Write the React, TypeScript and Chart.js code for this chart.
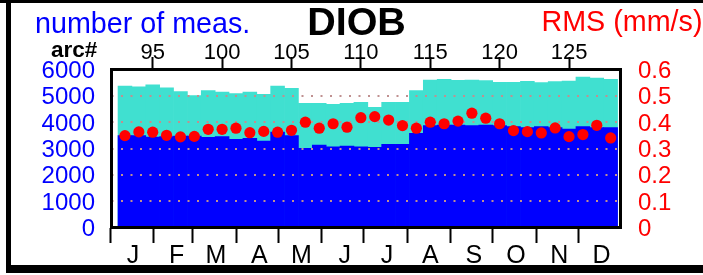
import { useEffect, useRef } from 'react';
import { Chart, registerables } from 'chart.js';

Chart.register(...registerables);

const FONT = '"Liberation Sans", Arial, Helvetica, sans-serif';

// arc numbers (one bar / point per arc)
const arcs = [93, 94, 95, 96, 97, 98, 99, 100, 101, 102, 103, 104, 105, 106, 107, 108, 109, 110,
  111, 112, 113, 114, 115, 116, 117, 118, 119, 120, 121, 122, 123, 124, 125, 126, 127, 128];
// total number of measurements (turquoise top)
const totalMeas = [5373, 5346, 5422, 5308, 5157, 5005, 5195, 5145, 5081, 5145, 5056, 5373, 5285,
  4716, 4716, 4678, 4716, 4754, 4564, 4754, 4754, 5195, 5601, 5626, 5588, 5601, 5575, 5512,
  5512, 5550, 5499, 5537, 5563, 5715, 5677, 5626];
// accepted measurements (blue)
const blueMeas = [3490, 3490, 3436, 3455, 3474, 3474, 3425, 3448, 3349, 3387, 3284, 3620, 3486,
  3007, 3132, 3068, 3094, 3068, 3045, 3159, 3159, 3577, 3866, 3892, 3892, 3866, 3892, 3866,
  3828, 3790, 3828, 3790, 3740, 3828, 3790, 3790];
// RMS (mm/s)
const rms = [0.349, 0.363, 0.362, 0.350, 0.344, 0.346, 0.373, 0.373, 0.377, 0.360, 0.365, 0.362,
  0.369, 0.400, 0.377, 0.394, 0.381, 0.417, 0.421, 0.408, 0.387, 0.377, 0.400, 0.394, 0.404,
  0.434, 0.415, 0.394, 0.368, 0.364, 0.359, 0.378, 0.345, 0.353, 0.388, 0.340];

const arcTicks = [95, 100, 105, 110, 115, 120, 125];
const measTicks = [0, 1000, 2000, 3000, 4000, 5000, 6000];
const rmsTicks = [0, 0.1, 0.2, 0.3, 0.4, 0.5, 0.6];
const rmsTickLabels = ['0', '0.1', '0.2', '0.3', '0.4', '0.5', '0.6'];
const monthStarts = [0, 31, 59, 90, 120, 151, 181, 212, 243, 273, 304, 334];
const monthLabels = ['J', 'F', 'M', 'A', 'M', 'J', 'J', 'A', 'S', 'O', 'N', 'D'];

const BLUE = '#0000ff';
const TURQ = '#40e0d0';
const RED = '#ff0000';
const GRID = '#c09090';

const LEFT_W = 111.5;
const RIGHT_W = 82.5;
const TOP_H = 69.5;
const BOTTOM_H = 47.5;

const decorPlugin = {
  id: 'decor',
  beforeDatasetDraw(chart: any, args: any) {
    if (args.index !== 2) return;
    const { ctx, chartArea } = chart;
    const ys = chart.scales.y;
    ctx.save();
    ctx.strokeStyle = GRID;
    ctx.lineWidth = 2;
    ctx.setLineDash([2, 7.5]);
    ys.ticks.forEach((t: any) => {
      if (t.value <= ys.min || t.value >= ys.max) return;
      const py = Math.round(ys.getPixelForValue(t.value));
      ctx.beginPath();
      ctx.moveTo(chartArea.left, py);
      ctx.lineTo(chartArea.right, py);
      ctx.stroke();
    });
    ctx.restore();
  },
  afterDraw(chart: any) {
    const { ctx, chartArea } = chart;
    ctx.save();
    // plot box
    ctx.strokeStyle = '#000';
    ctx.lineWidth = 3;
    ctx.strokeRect(chartArea.left, chartArea.top, chartArea.right - chartArea.left, chartArea.bottom - chartArea.top);
    // outer frame
    ctx.fillStyle = '#000';
    ctx.fillRect(0, 0, 703, 3);
    ctx.fillRect(6, 0, 5, 273);
    ctx.fillRect(6, 265, 697, 8);
    // texts
    ctx.textBaseline = 'alphabetic';
    ctx.fillStyle = BLUE;
    ctx.textAlign = 'left';
    ctx.font = `28.7px ${FONT}`;
    ctx.fillText('number of meas.', 35, 33);
    ctx.fillStyle = RED;
    ctx.fillText('RMS (mm/s)', 541.5, 31);
    ctx.fillStyle = '#000';
    ctx.textAlign = 'center';
    ctx.font = `bold 39.5px ${FONT}`;
    ctx.fillText('DIOB', 356.5, 35);
    ctx.textAlign = 'left';
    ctx.font = `bold 22.5px ${FONT}`;
    ctx.fillText('arc#', 51, 57);
    ctx.restore();
  },
};

export default function App() {
  const ref = useRef<HTMLCanvasElement>(null);
  useEffect(() => {
    if (!ref.current) return;
    const chart = new Chart(ref.current, {
      type: 'bar',
      data: {
        datasets: [
          {
            type: 'bar',
            label: 'total',
            data: arcs.map((a, i) => ({ x: a, y: totalMeas[i] })),
            backgroundColor: TURQ,
            borderWidth: 0,
            barPercentage: 1,
            categoryPercentage: 1,
            grouped: false,
            order: 3,
            xAxisID: 'xArc',
            yAxisID: 'y',
          } as any,
          {
            type: 'bar',
            label: 'used',
            data: arcs.map((a, i) => ({ x: a, y: blueMeas[i] })),
            backgroundColor: BLUE,
            borderWidth: 0,
            barPercentage: 1,
            categoryPercentage: 1,
            grouped: false,
            order: 2,
            xAxisID: 'xArc',
            yAxisID: 'y',
          } as any,
          {
            type: 'scatter',
            label: 'rms',
            data: arcs.map((a, i) => ({ x: a, y: rms[i] })),
            pointRadius: 5.6,
            pointBackgroundColor: RED,
            pointBorderColor: RED,
            pointBorderWidth: 0,
            showLine: false,
            order: 1,
            xAxisID: 'xArc',
            yAxisID: 'yRms',
          } as any,
        ],
      },
      options: {
        responsive: false,
        animation: false,
        devicePixelRatio: 1,
        layout: { padding: 0 },
        plugins: { legend: { display: false }, tooltip: { enabled: false }, title: { display: false } },
        scales: {
          xArc: {
            type: 'linear',
            axis: 'x',
            position: 'top',
            min: 92.03,
            max: 128.71,
            offset: false,
            grid: { display: true, drawOnChartArea: false, drawTicks: true, tickLength: 12.5, tickWidth: 2, tickColor: '#000', offset: false },
            border: { display: false },
            ticks: {
              autoSkip: false, maxRotation: 0, padding: -7, color: '#000',
              font: { family: FONT, size: 22, lineHeight: 1 },
              callback: (v: any) => String(v),
            },
            afterBuildTicks: (s: any) => { s.ticks = arcTicks.map((v) => ({ value: v })); },
            afterFit: (s: any) => { s.height = TOP_H; },
          },
          xMonth: {
            type: 'linear',
            axis: 'x',
            position: 'bottom',
            min: 1,
            max: 364,
            offset: false,
            grid: { display: true, drawOnChartArea: false, drawTicks: true, tickLength: 15.5, tickWidth: 2, tickColor: '#000', offset: false },
            border: { display: false },
            ticks: {
              autoSkip: false, maxRotation: 0, padding: 0.8, labelOffset: 23, color: '#000',
              font: { family: FONT, size: 25, lineHeight: 1 },
              callback: (_v: any, i: number) => monthLabels[i],
            },
            afterBuildTicks: (s: any) => { s.ticks = monthStarts.map((v) => ({ value: v })); },
            afterFit: (s: any) => { s.height = BOTTOM_H; },
          },
          y: {
            type: 'linear',
            axis: 'y',
            position: 'left',
            min: 0,
            max: 6000,
            grid: { display: false, drawTicks: false },
            border: { display: false },
            ticks: {
              autoSkip: false, padding: 16.5, labelOffset: 2, color: BLUE,
              font: { family: FONT, size: 24, lineHeight: 1 },
              callback: (v: any) => String(v),
            },
            afterBuildTicks: (s: any) => { s.ticks = measTicks.map((v) => ({ value: v })); },
            afterFit: (s: any) => { s.width = LEFT_W; },
          },
          yRms: {
            type: 'linear',
            axis: 'y',
            position: 'right',
            min: 0,
            max: 0.6,
            grid: { display: false, drawTicks: false },
            border: { display: false },
            ticks: {
              autoSkip: false, padding: 17.5, labelOffset: 2, color: RED,
              font: { family: FONT, size: 24, lineHeight: 1 },
              callback: (_v: any, i: number) => rmsTickLabels[i],
            },
            afterBuildTicks: (s: any) => { s.ticks = rmsTicks.map((v) => ({ value: v })); },
            afterFit: (s: any) => { s.width = RIGHT_W; },
          },
        } as any,
      },
      plugins: [decorPlugin],
    });
    return () => chart.destroy();
  }, []);
  return (
    <div style={{ position: 'fixed', left: 0, top: 0, width: 703, height: 275, background: '#fff' }}>
      <canvas ref={ref} width={703} height={275} style={{ display: 'block', width: 703, height: 275 }} />
    </div>
  );
}
